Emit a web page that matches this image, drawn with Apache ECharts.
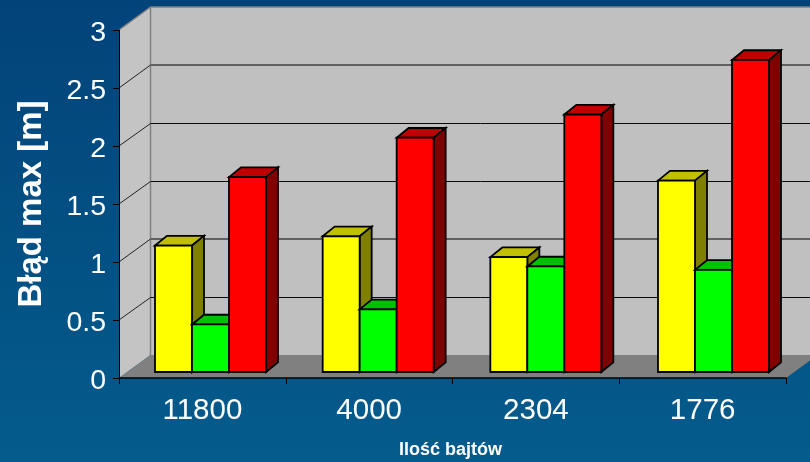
<!DOCTYPE html>
<html>
<head>
<meta charset="utf-8">
<style>html,body{margin:0;padding:0;background:#034a7c}#c{width:810px;height:462px}</style>
<script src="https://cdn.jsdelivr.net/npm/echarts@6/dist/echarts.min.js"></script>
</head>
<body>
<div id="c"></div>
<script>
// Maximum error per message size, drawn as 3D-style columns.
const categories = ['11800', '4000', '2304', '1776'];
const yellowValues = [1.09, 1.17, 0.99, 1.65];
const greenValues = [0.41, 0.54, 0.91, 0.88];
const redValues = [1.68, 2.02, 2.22, 2.69];
const yTicks = [0, 0.5, 1, 1.5, 2, 2.5, 3];
const heavyGridValues = [1, 2.5];
const titleY = 'Błąd max [m]';
const titleX = 'Ilość bajtów';

// Projection of the chart box: back wall offset and column placement in pixels.
const WALL_DX = 31.5, WALL_DY = -23;
const BAR_W = 37, BAR_DX = 12, BAR_DY = -9.7, BAR_SHIFT_X = 9.5, BAR_SHIFT_Y = -6, BAR_SPREAD = 1.0055;

const chart = echarts.init(document.getElementById('c'));

function poly(points, fill, stroke, width) {
  return { type: 'polygon', shape: { points }, style: { fill, stroke: stroke || 'none', lineWidth: width || 0, lineJoin: 'miter' } };
}
function line(a, b, stroke, width) {
  return { type: 'line', shape: { x1: a[0], y1: a[1], x2: b[0], y2: b[1] }, style: { stroke, lineWidth: width } };
}

// Side wall, back wall, floor and the gridlines folded across them.
function renderWalls(params, api) {
  const value = api.value(0);
  const x0 = api.coord([0, 0])[0] - api.size([1, 0])[0] / 2;
  const x1 = x0 + api.size([1, 0])[0] * categories.length;
  const y = api.coord([0, value])[1];
  const children = [];
  if (params.dataIndex === 0) {
    const yTop = api.coord([0, yTicks[yTicks.length - 1]])[1];
    children.push(poly([[x0, y], [x0 + WALL_DX, y + WALL_DY], [x0 + WALL_DX, yTop + WALL_DY], [x0, yTop]], '#c4c4c4'));
    children.push(poly([[x0 + WALL_DX, y + WALL_DY], [x1 + WALL_DX, y + WALL_DY], [x1 + WALL_DX, yTop + WALL_DY], [x0 + WALL_DX, yTop + WALL_DY]], '#c0c0c0'));
    children.push(poly([[x0, y], [x1, y], [x1 + WALL_DX, y + WALL_DY], [x0 + WALL_DX, y + WALL_DY]], '#808080'));
    children.push(line([x0 + WALL_DX, yTop + WALL_DY], [x0 + WALL_DX, y + WALL_DY], '#808080', 1.5));
    children.push(line([x0, yTop], [x0 + WALL_DX, yTop + WALL_DY], '#808080', 1.5));
    children.push(line([x0 + WALL_DX, yTop + WALL_DY], [x1 + WALL_DX, yTop + WALL_DY], '#808080', 1.5));
  } else if (value !== yTicks[yTicks.length - 1]) {
    const heavy = heavyGridValues.includes(value);
    const yBack = heavy ? Math.round(y + WALL_DY) : Math.round(y + WALL_DY) + 0.5;
    children.push(line([x0, y], [x0 + WALL_DX, yBack], '#222222', 1));
    children.push(line([x0 + WALL_DX, yBack], [x1 + WALL_DX, yBack], heavy ? '#606060' : '#0a0a0a', heavy ? 2 : 1));
  }
  return { type: 'group', children };
}

// One column: front face, top face and right side, outlined in black.
function barRenderer(slot, front, top, side) {
  return function (params, api) {
    const i = api.value(0);
    const c = api.coord([i, api.value(1)]);
    const base = api.coord([i, 0]);
    const mid = (api.coord([0, 0])[0] + api.coord([categories.length - 1, 0])[0]) / 2;
    const center = mid + (c[0] - mid) * BAR_SPREAD;
    const left = center + BAR_SHIFT_X + (slot - 1.5) * BAR_W;
    const right = left + BAR_W;
    const yT = c[1] + BAR_SHIFT_Y;
    const yB = base[1] + BAR_SHIFT_Y;
    const s = '#000000', w = 1.8;
    return {
      type: 'group',
      children: [
        poly([[left, yT], [left + BAR_DX, yT + BAR_DY], [right + BAR_DX, yT + BAR_DY], [right, yT]], top, s, w),
        poly([[right, yT], [right + BAR_DX, yT + BAR_DY], [right + BAR_DX, yB + BAR_DY], [right, yB]], side, s, w),
        poly([[left, yT], [right, yT], [right, yB], [left, yB]], front, s, w)
      ]
    };
  };
}

function barSeries(values, slot, front, top, side) {
  return {
    type: 'custom',
    z: 3,
    clip: false,
    renderItem: barRenderer(slot, front, top, side),
    encode: { x: 0, y: 1 },
    data: values.map((v, i) => [i, v])
  };
}

chart.setOption({
  animation: false,
  backgroundColor: new echarts.graphic.LinearGradient(0, 0, 0, 1, [
    { offset: 0, color: '#02437a' },
    { offset: 1, color: '#045c8c' }
  ]),
  grid: { left: 119, top: 30, width: 667, height: 348, containLabel: false, outerBoundsMode: 'none' },
  xAxis: {
    type: 'category',
    data: categories,
    z: 5,
    name: titleX,
    nameLocation: 'middle',
    nameGap: 63,
    nameTextStyle: { color: '#ffffff', fontFamily: 'Liberation Sans', fontWeight: 'bold', fontSize: 18, padding: [0, 4, 0, 0] },
    axisLine: { lineStyle: { color: '#000000', width: 1.5 } },
    axisTick: { show: true, alignWithLabel: false, length: 6, lineStyle: { color: '#000000', width: 1 } },
    axisLabel: { color: '#ffffff', fontFamily: 'Liberation Sans', fontSize: 29.5, margin: 18 },
    splitLine: { show: false }
  },
  yAxis: {
    type: 'value',
    min: 0,
    max: 3,
    interval: 0.5,
    z: 5,
    name: titleY,
    nameLocation: 'middle',
    nameGap: 71,
    nameRotate: 90,
    nameTextStyle: { color: '#ffffff', fontFamily: 'Liberation Sans', fontWeight: 'bold', fontSize: 33 },
    axisLine: { show: true, lineStyle: { color: '#000000', width: 1 } },
    axisTick: { show: true, length: 6, lineStyle: { color: '#000000', width: 1 } },
    axisLabel: { color: '#ffffff', fontFamily: 'Liberation Sans', fontSize: 28.5, margin: 13, verticalAlign: 'top', lineHeight: 6 },
    splitLine: { show: false }
  },
  series: [
    { type: 'custom', z: 1, clip: false, renderItem: renderWalls, encode: { y: 0 }, data: yTicks.map(v => [v]) },
    barSeries(yellowValues, 0, '#ffff00', '#c0c000', '#808000'),
    barSeries(greenValues, 1, '#00ff00', '#00c000', '#008000'),
    barSeries(redValues, 2, '#ff0000', '#c00000', '#800000')
  ]
});
</script>
</body>
</html>
